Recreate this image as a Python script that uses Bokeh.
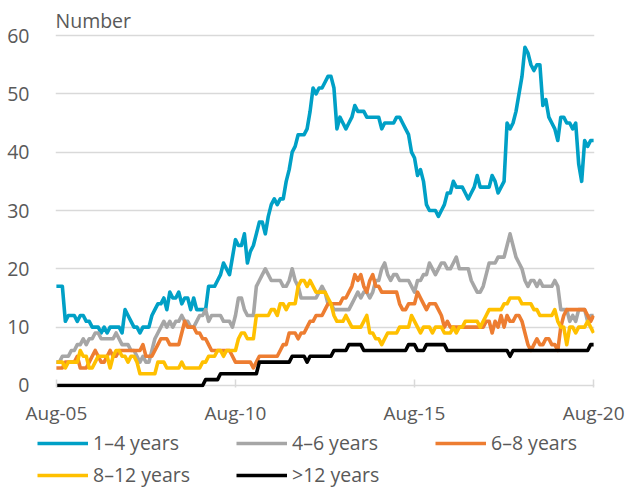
import pandas as pd
from bokeh.plotting import figure
from bokeh.models import Range1d, FixedTicker, Legend, LegendItem
from bokeh.embed import file_html
from bokeh.resources import INLINE

# ---------------- data (monthly, Aug-2005 .. Aug-2020) ----------------
start_month = "2005-08"
series_names = ["1–4 years", "4–6 years", "6–8 years", "8–12 years", ">12 years"]
series_colors = ["#00A0C6", "#A6A6A6", "#ED7D31", "#FFC000", "#000000"]
y_ticks = [0, 10, 20, 30, 40, 50, 60]
x_tick_labels = ["Aug-05", "Aug-10", "Aug-15", "Aug-20"]
y_title = "Number"

yrs_1_4 = [
    17, 17, 17, 11, 12, 12, 12, 11, 12, 12,
    11, 11, 10, 10, 10, 9, 10, 9, 10, 10,
    10, 10, 9, 13, 12, 11, 10, 10, 9, 10,
    10, 10, 12, 13, 14, 14, 15, 13, 16, 15,
    15, 16, 14, 15, 15, 13, 15, 13, 13, 13,
    13, 17, 17, 17, 18, 19, 21, 20, 19, 22,
    25, 24, 24, 26, 21, 23, 24, 26, 28, 28,
    26, 29, 31, 32, 31, 32, 32, 35, 37, 40,
    41, 43, 43, 43, 44, 47, 51, 50, 51, 51,
    52, 53, 53, 51, 44, 46, 45, 44, 45, 46,
    48, 47, 47, 47, 46, 46, 46, 46, 46, 44,
    45, 45, 45, 45, 46, 46, 45, 44, 43, 40,
    39, 36, 37, 35, 31, 30, 30, 30, 29, 30,
    31, 33, 33, 35, 34, 34, 34, 33, 32, 33,
    34, 36, 34, 34, 34, 34, 36, 35, 33, 34,
    35, 45, 44, 45, 47, 50, 53, 58, 57, 55,
    54, 55, 55, 48, 49, 46, 45, 44, 42, 46,
    46, 45, 45, 44, 45, 38, 35, 42, 41, 42,
    42,
]

yrs_4_6 = [
    4, 4, 5, 5, 5, 6, 6, 7, 7, 8,
    7, 8, 8, 9, 9, 8, 8, 8, 8, 8,
    9, 8, 7, 7, 7, 6, 6, 5, 4, 5,
    4, 4, 6, 8, 9, 10, 11, 10, 11, 10,
    11, 11, 12, 11, 11, 10, 10, 11, 12, 12,
    13, 11, 12, 12, 12, 12, 11, 11, 11, 10,
    12, 15, 15, 13, 12, 12, 12, 17, 18, 19,
    20, 19, 18, 18, 18, 18, 17, 17, 18, 20,
    18, 17, 15, 15, 15, 15, 15, 15, 16, 17,
    16, 14, 14, 13, 13, 13, 13, 13, 13, 14,
    15, 16, 15, 16, 16, 15, 16, 18, 18, 20,
    21, 19, 18, 19, 19, 18, 18, 18, 18, 17,
    16, 18, 18, 19, 19, 21, 20, 19, 20, 21,
    21, 20, 20, 21, 22, 20, 20, 20, 20, 18,
    17, 16, 16, 17, 19, 21, 21, 21, 22, 22,
    22, 24, 26, 24, 22, 21, 20, 18, 17, 18,
    18, 17, 18, 17, 17, 17, 17, 18, 17, 13,
    13, 13, 11, 12, 11, 13, 13, 13, 11, 12,
    12,
]

yrs_6_8 = [
    3, 3, 3, 4, 4, 4, 4, 5, 3, 3,
    3, 4, 5, 6, 5, 4, 4, 5, 6, 5,
    5, 6, 6, 6, 6, 6, 6, 6, 6, 7,
    5, 5, 5, 6, 7, 8, 8, 8, 7, 7,
    7, 7, 9, 11, 10, 10, 10, 9, 9, 8,
    8, 7, 6, 6, 6, 6, 6, 6, 6, 5,
    4, 4, 4, 4, 4, 4, 3, 4, 5, 5,
    5, 5, 5, 5, 5, 6, 7, 7, 9, 9,
    9, 8, 9, 9, 10, 11, 11, 12, 12, 12,
    13, 14, 14, 14, 14, 14, 15, 15, 16, 17,
    19, 18, 19, 17, 16, 18, 19, 17, 17, 16,
    16, 16, 16, 16, 16, 14, 13, 13, 14, 14,
    14, 16, 15, 14, 13, 14, 14, 14, 13, 12,
    10, 11, 10, 10, 10, 10, 10, 10, 10, 10,
    10, 10, 10, 10, 11, 11, 9, 11, 10, 12,
    10, 12, 11, 11, 12, 12, 11, 9, 7, 6,
    7, 8, 7, 7, 8, 8, 7, 7, 6, 10,
    12, 13, 13, 13, 13, 13, 13, 13, 12, 11,
    12,
]

yrs_8_12 = [
    4, 4, 4, 3, 4, 4, 4, 4, 6, 5,
    5, 3, 3, 4, 5, 5, 5, 5, 3, 5,
    6, 6, 5, 5, 4, 5, 5, 4, 2, 2,
    2, 2, 2, 2, 4, 4, 4, 3, 3, 3,
    3, 3, 4, 3, 3, 3, 3, 3, 3, 4,
    4, 5, 5, 5, 6, 6, 5, 6, 6, 6,
    6, 8, 9, 9, 8, 8, 8, 12, 12, 12,
    12, 12, 13, 13, 12, 14, 14, 13, 14, 14,
    14, 17, 18, 18, 17, 18, 17, 16, 16, 16,
    16, 15, 14, 12, 11, 11, 11, 12, 11, 10,
    10, 10, 10, 11, 12, 9, 9, 8, 8, 7,
    8, 9, 9, 9, 9, 10, 10, 10, 10, 12,
    11, 10, 9, 10, 10, 10, 9, 10, 10, 10,
    9, 9, 9, 10, 9, 10, 10, 11, 11, 11,
    11, 11, 10, 11, 12, 13, 13, 13, 13, 13,
    14, 14, 15, 15, 15, 15, 14, 14, 14, 14,
    13, 13, 12, 12, 12, 12, 12, 13, 11, 10,
    10, 7, 10, 10, 9, 10, 10, 10, 11, 10,
    9,
]

yrs_over_12 = [
    0, 0, 0, 0, 0, 0, 0, 0, 0, 0,
    0, 0, 0, 0, 0, 0, 0, 0, 0, 0,
    0, 0, 0, 0, 0, 0, 0, 0, 0, 0,
    0, 0, 0, 0, 0, 0, 0, 0, 0, 0,
    0, 0, 0, 0, 0, 0, 0, 0, 0, 0,
    1, 1, 1, 1, 1, 2, 2, 2, 2, 2,
    2, 2, 2, 2, 2, 2, 2, 2, 4, 4,
    4, 4, 4, 4, 4, 4, 4, 4, 4, 5,
    5, 5, 5, 5, 4, 5, 5, 5, 5, 5,
    5, 5, 5, 6, 6, 6, 6, 6, 7, 7,
    7, 7, 7, 6, 6, 6, 6, 6, 6, 6,
    6, 6, 6, 6, 6, 6, 6, 6, 7, 7,
    7, 6, 6, 6, 7, 7, 7, 7, 7, 7,
    7, 6, 6, 6, 6, 6, 6, 6, 6, 6,
    6, 6, 6, 6, 6, 6, 6, 6, 6, 6,
    6, 6, 5, 6, 6, 6, 6, 6, 6, 6,
    6, 6, 6, 6, 6, 6, 6, 6, 6, 6,
    6, 6, 6, 6, 6, 6, 6, 6, 6, 7,
    7,
]

series_values = [yrs_1_4, yrs_4_6, yrs_6_8, yrs_8_12, yrs_over_12]

# ---------------- derived x positions ----------------
months = pd.period_range(start_month, periods=len(yrs_1_4), freq="M")
month_labels = [m.strftime("%b-%y") for m in months]
x_idx = list(range(len(months)))
x_tick_pos = [month_labels.index(t) for t in x_tick_labels]

FONT = "Open Sans"
TXT = "#595959"
GRID = "#D9D9D9"
LW = 3.6

# ---------------- main chart ----------------
p = figure(
    width=628, height=428,
    output_backend="svg", toolbar_location=None,
    x_range=Range1d(-0.3, x_idx[-1] + 0.3),
    y_range=Range1d(-0.35, 60.35),
    min_border_left=55, min_border_right=34,
    min_border_top=33, min_border_bottom=40,
    outline_line_color=None,
    background_fill_color="white", border_fill_color="white",
)

p.title.text = y_title
p.title.align = "left"
p.title.offset = 0
p.title.standoff = 0
p.title.text_font = FONT
p.title.text_font_size = "19.5px"
p.title.text_font_style = "normal"
p.title.text_color = TXT

p.xaxis.ticker = FixedTicker(ticks=x_tick_pos)
p.xaxis.major_label_overrides = {pos: lab for pos, lab in zip(x_tick_pos, x_tick_labels)}
p.xaxis.axis_line_color = None
p.xaxis.major_tick_in = 8
p.xaxis.major_tick_out = 0
p.xaxis.major_tick_line_color = GRID
p.xaxis.major_tick_line_width = 1.5
p.xaxis.minor_tick_line_color = None
p.xaxis.major_label_standoff = 12
p.xaxis.major_label_text_font = FONT
p.xaxis.major_label_text_font_size = "19px"
p.xaxis.major_label_text_color = TXT

p.yaxis.ticker = FixedTicker(ticks=y_ticks)
p.yaxis.axis_line_color = None
p.yaxis.major_tick_line_color = None
p.yaxis.minor_tick_line_color = None
p.yaxis.major_label_standoff = 20
p.yaxis.major_label_text_font = FONT
p.yaxis.major_label_text_font_size = "19.5px"
p.yaxis.major_label_text_color = TXT

p.xgrid.grid_line_color = None
p.ygrid.ticker = FixedTicker(ticks=y_ticks)
p.ygrid.grid_line_color = GRID
p.ygrid.grid_line_width = 1.5

for vals, col in zip(series_values, series_colors):
    p.line(x_idx, vals, line_color=col, line_width=LW, line_join="round")

# ---------------- legend strip below (separate root, no frame alignment) ----------------
lg = figure(
    width=628, height=60,
    output_backend="svg", toolbar_location=None,
    x_range=Range1d(-20, -10), y_range=Range1d(-20, -10),   # data kept out of view
    min_border=0, outline_line_color=None,
    x_axis_type=None, y_axis_type=None,
    background_fill_color="white", border_fill_color="white",
)
lg.xgrid.grid_line_color = None
lg.ygrid.grid_line_color = None
keys = [lg.line(x_idx, vals, line_color=c, line_width=LW)
        for vals, c in zip(series_values, series_colors)]

def make_legend(idx, loc):
    return Legend(
        items=[LegendItem(label=series_names[i], renderers=[keys[i]]) for i in idx],
        orientation="horizontal", location=loc,
        glyph_width=51, glyph_height=20, label_standoff=5, label_width=140,
        label_height=20, spacing=3, padding=0, margin=0,
        border_line_color=None, background_fill_alpha=0,
        label_text_font=FONT, label_text_font_size="19.5px", label_text_color=TXT,
    )

lg.add_layout(make_legend([0, 1, 2], (37, 32)), "center")
lg.add_layout(make_legend([3, 4], (37, 0)), "center")

open("out.html", "w").write(file_html([p, lg], INLINE))
